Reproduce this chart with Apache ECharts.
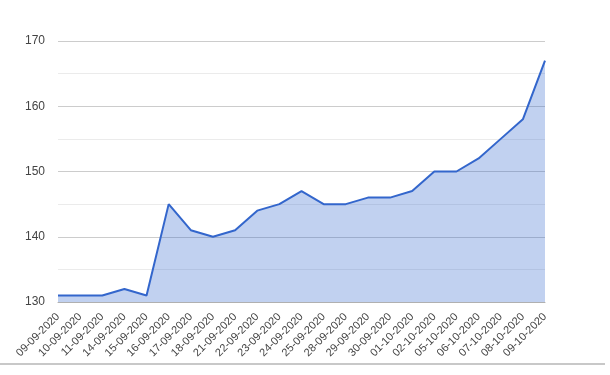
<!DOCTYPE html>
<html><head><meta charset="utf-8">
<script src="https://cdn.jsdelivr.net/npm/echarts@6/dist/echarts.min.js"></script>
<style>html,body{margin:0;padding:0;background:#fff}#c{width:610px;height:375px}</style>
</head><body><div id="c"></div>
<script>
const categories = ["09-09-2020","10-09-2020","11-09-2020","14-09-2020","15-09-2020","16-09-2020","17-09-2020","18-09-2020","21-09-2020","22-09-2020","23-09-2020","24-09-2020","25-09-2020","28-09-2020","29-09-2020","30-09-2020","01-10-2020","02-10-2020","05-10-2020","06-10-2020","07-10-2020","08-10-2020","09-10-2020"];
const values = [131,131,131,132,131,145,141,140,141,144,145,147,145,145,146,146,147,150,150,152,155,158,167];
const yTicks = [130,140,150,160,170];

const chart = echarts.init(document.getElementById('c'), null, {renderer:'canvas'});
chart.setOption({
  animation:false,
  backgroundColor:'#fff',
  grid:{left:58,right:65,top:41,bottom:73},
  xAxis:{
    type:'category', data:categories, boundaryGap:false,
    axisLine:{show:true, lineStyle:{color:'#b0b0b0', width:1}}, axisTick:{show:false},
    axisLabel:{rotate:45, interval:0, color:'#444', fontFamily:'Liberation Sans, Arial', fontSize:11, margin:13}
  },
  yAxis:{
    type:'value', min:yTicks[0], max:yTicks[yTicks.length-1], interval:10,
    axisLine:{show:false}, axisTick:{show:false},
    axisLabel:{color:'#444', fontFamily:'Liberation Sans, Arial', fontSize:12, margin:13},
    splitLine:{lineStyle:{color:'#cccccc', width:1}},
    minorTick:{show:false, splitNumber:2},
    minorSplitLine:{show:true, lineStyle:{color:'#ebebeb', width:1}}
  },
  graphic:[{type:'line', shape:{x1:0,y1:364,x2:605,y2:364}, style:{stroke:'#c8c8c8', lineWidth:2}}],
  series:[{
    type:'line', data:values, symbol:'none',
    lineStyle:{color:'#3366cc', width:2},
    areaStyle:{color:'#3366cc', opacity:0.3}
  }]
});
</script></body></html>
